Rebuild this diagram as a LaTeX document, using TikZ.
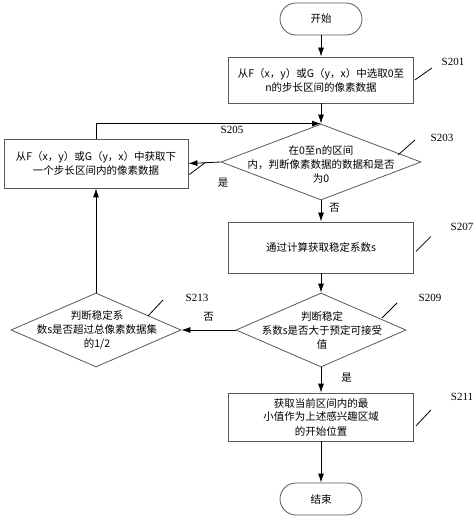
\documentclass[tikz,border=0pt]{standalone}
\usepackage{fontspec}
\setmainfont{Liberation Serif}
\newfontfamily\cjk{Noto Sans CJK SC}
\usepackage{tikz}
\usetikzlibrary{arrows.meta,shapes.geometric}

\begin{document}
\begin{tikzpicture}[x=1pt,y=-1pt,
    txt/.style={font=\cjk\fontsize{10.5}{14}\selectfont,align=center,inner sep=0pt},
    box/.style={txt,draw=black!65,line width=0.8pt,minimum width=185pt},
    term/.style={txt,draw=black!65,line width=0.8pt,rounded corners=16pt,minimum width=82pt,minimum height=32pt},
    dia/.style={diamond,draw=black!65,line width=0.8pt,inner sep=0pt},
    arr/.style={-{Latex[length=9pt,width=6pt]},line width=0.8pt},
    tag/.style={font=\fontsize{11}{13}\selectfont,inner sep=0pt},
    lead/.style={line width=0.8pt}]
\useasboundingbox (0,0) rectangle (474,518);

% Main column
\node[term] (start) at (321,19) {开始};
\node[box,minimum height=46pt] (b201) at (321,80) {从F（x，y）或G（y，x）中选取0至\\n的步长区间的像素数据};
\node[dia,minimum width=200pt,minimum height=76pt] (d203) at (321,162) {};
\node[txt] (t203) at (321,164) {在0至n的区间\\内，判断像素数据的数据和是否\\为0};
\node[box,minimum height=51pt] (b207) at (321,247.5) {通过计算获取稳定系数s};
\node[dia,minimum width=170pt,minimum height=74pt] (d209) at (321,330) {};
\node[txt] (t209) at (322,330) {判断稳定\\系数s是否大于预定可接受\\值};
\node[box,minimum height=48pt] (b211) at (321,417) {获取当前区间内的最\\小值作为上述感兴趣区域\\的开始位置};
\node[term] (end) at (321,499) {结束};

% Left column
\node[box,minimum width=184pt,minimum height=49pt] (b205) at (96,163.5) {从F（x，y）或G（y，x）中获取下\\一个步长区间内的像素数据};
\node[dia,minimum width=170pt,minimum height=74pt] (d213) at (96,330) {};
\node[txt] (t213) at (97,330) {判断稳定系\\数s是否超过总像素数据集\\的1/2};

% Step tags
\node[tag] (l201) at (453,62) {S201};
\node[tag] (l203) at (442,138) {S203};
\node[tag] (l205) at (232,130) {S205};
\node[tag] (l207) at (462,227) {S207};
\node[tag] (l209) at (430,298) {S209};
\node[tag] (l213) at (197,298) {S213};
\node[tag] (l211) at (462,397) {S211};
\draw[lead] ([xshift=1pt]b201.east) -- ++(17,-12);
\draw[lead] (398,155) -- (415,140);
\draw[lead] ([xshift=1pt,yshift=-11pt]b205.east) -- ++(16,-12);
\draw[lead] ([xshift=2pt,yshift=-4pt]b207.east) -- ++(15,-15);
\draw[lead] (382,318) -- (397,303);
\draw[lead] (148,316) -- (163,300);
\draw[lead] ([xshift=2pt,yshift=-9pt]b211.east) -- ++(15,-16);

% Flow
\draw[arr] (start) -- (b201);
\draw[arr] (b201) -- (d203.north);
\draw[arr] (d203) -- node[txt,pos=0.35,right=8pt] (n203) {否} (b207);
\draw[arr] (b207) -- (d209.north);
\draw[arr] (d209) -- node[txt,pos=0.4,right=20pt] (y209) {是} (b211);
\draw[arr] (b211) -- (end);
\draw[arr] (d203.west) -- (b205.east);
\node[txt] (y203) at (223,183) {是};
\draw[arr] (d209.west) -- node[txt,above=8pt] (n209) {否} (d213.east);
\draw[arr] (d213.north) -- (b205.south);
\draw[arr] (b205.north) |- (d203.north);
\end{tikzpicture}
\end{document}
